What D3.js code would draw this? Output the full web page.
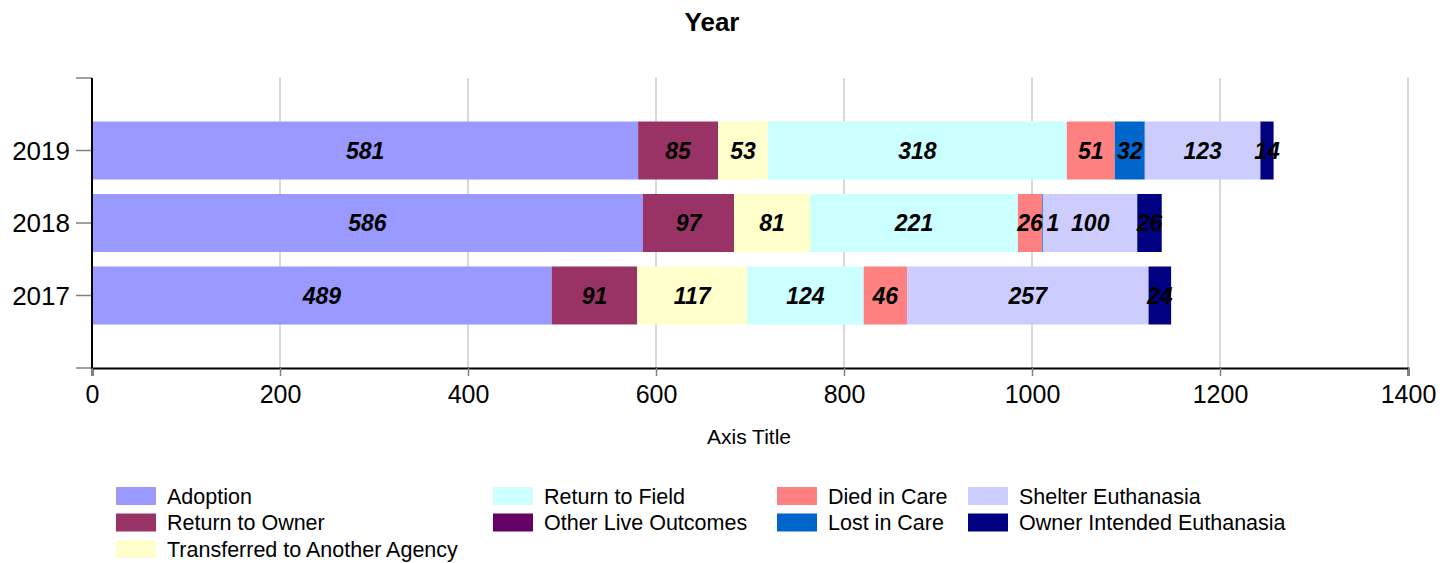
<!DOCTYPE html>
<html>
<head>
<meta charset="utf-8">
<script src="https://cdn.jsdelivr.net/npm/d3@7"></script>
<style>
  body { margin: 0; background: #fff; }
  svg { font-family: "Liberation Sans", Arial, sans-serif; }
</style>
</head>
<body>
<svg id="chart" width="1453" height="563"></svg>
<script>
// data
const years = ['2019', '2018', '2017']
const series = ['Adoption', 'Return to Owner', 'Transferred to Another Agency', 'Return to Field',
  'Other Live Outcomes', 'Died in Care', 'Lost in Care', 'Shelter Euthanasia', 'Owner Intended Euthanasia']
const adoption = [581, 586, 489]
const returnToOwner = [85, 97, 91]
const transferred = [53, 81, 117]
const returnToField = [318, 221, 124]
const otherLive = [0, 0, 0]
const diedInCare = [51, 26, 46]
const lostInCare = [32, 1, 0]
const shelterEuth = [123, 100, 257]
const ownerEuth = [14, 26, 24]
const xTicks = [0, 200, 400, 600, 800, 1000, 1200, 1400]

const colors = ['#9999ff', '#993366', '#ffffcc', '#ccffff', '#660066', '#ff8080', '#0066cc', '#ccccff', '#000080']
const values = [adoption, returnToOwner, transferred, returnToField, otherLive, diedInCare, lostInCare, shelterEuth, ownerEuth]

const rows = years.map((y, i) => {
  const r = {year: y}
  series.forEach((s, j) => r[s] = values[j][i])
  return r
})

const svg = d3.select('#chart')
const margin = {top: 78, left: 92, right: 45, bottom: 195}
const W = 1453 - margin.left - margin.right
const H = 563 - margin.top - margin.bottom

const x = d3.scaleLinear().domain([0, 1400]).range([0, W])
const y = d3.scalePoint().domain(years).range([0, H]).padding(1)
const barH = y.step() * 0.8

svg.append('text').attr('x', 712).attr('y', 31).attr('text-anchor', 'middle')
  .attr('font-size', 26).attr('font-weight', 'bold').text('Year')

const g = svg.append('g').attr('transform', `translate(${margin.left},${margin.top})`)

// gridlines
g.append('g').selectAll('line').data(xTicks.slice(1)).enter().append('line')
  .attr('x1', d => x(d)).attr('x2', d => x(d))
  .attr('y1', 0).attr('y2', H)
  .attr('stroke', '#d9d9d9').attr('stroke-width', 2)

const stack = d3.stack().keys(series)(rows)

g.selectAll('.layer').data(stack).enter().append('g')
  .attr('fill', (d, i) => colors[i])
  .selectAll('rect').data(d => d).enter().append('rect')
  .attr('x', d => x(d[0]))
  .attr('width', d => x(d[1]) - x(d[0]))
  .attr('y', d => y(d.data.year) - barH / 2)
  .attr('height', barH)

// labels on top of every rect; tiny segments get their label nudged right
const segs = stack.flatMap(s => s.filter(v => v[1] - v[0] > 0))
g.append('g').selectAll('text').data(segs).enter().append('text')
  .attr('x', d => {
    const w = x(d[1]) - x(d[0])
    return (x(d[0]) + x(d[1])) / 2 + (w < 5 ? 10 : 0)
  })
  .attr('y', d => y(d.data.year))
  .attr('dy', '0.35em')
  .attr('text-anchor', 'middle')
  .attr('fill', '#000')
  .attr('font-size', 23).attr('font-weight', 'bold').attr('font-style', 'italic')
  .text(d => d[1] - d[0])

// y axis
const yAxis = g.append('g')
yAxis.selectAll('line.tick').data([0, ...years.map(d => y(d)), H]).enter().append('line')
  .attr('x1', -16).attr('x2', 0).attr('y1', d => d).attr('y2', d => d)
  .attr('stroke', '#808080').attr('stroke-width', 1.5)
yAxis.selectAll('text').data(years).enter().append('text')
  .attr('x', -22).attr('y', d => y(d)).attr('dy', '0.35em')
  .attr('text-anchor', 'end').attr('font-size', 26).text(d => d)
yAxis.append('line').attr('x1', 0).attr('x2', 0).attr('y1', 0).attr('y2', H + 1)
  .attr('stroke', '#000').attr('stroke-width', 2)

// x axis
const xAxis = g.append('g').attr('transform', `translate(0,${H})`)
  .call(d3.axisBottom(x).tickValues(xTicks).tickSize(8).tickPadding(9).tickFormat(d3.format('d')))
xAxis.select('.domain').attr('stroke', '#000').attr('stroke-width', 2)
xAxis.selectAll('.tick line').attr('stroke', '#808080').attr('stroke-width', 1.5)
xAxis.selectAll('.tick text').attr('font-size', 25).attr('fill', '#000')
  .attr('font-family', '"Liberation Sans", Arial, sans-serif')

svg.append('text').attr('x', 749).attr('y', 444).attr('text-anchor', 'middle')
  .attr('font-size', 21).text('Axis Title')

// legend: columns as Excel laid them out
const legendCols = [[0, 1, 2], [3, 4], [5, 6], [7, 8]]
const colX = [116, 493, 777, 968]
const legend = svg.append('g')
legendCols.forEach((col, ci) => {
  col.forEach((si, ri) => {
    const ly = 496 + ri * 26.5
    legend.append('rect').attr('x', colX[ci]).attr('y', ly - 9).attr('width', 40).attr('height', 18)
      .attr('fill', colors[si])
    legend.append('text').attr('x', colX[ci] + 51).attr('y', ly).attr('dy', '0.35em')
      .attr('font-size', 21.5).text(series[si])
  })
})
</script>
</body>
</html>
